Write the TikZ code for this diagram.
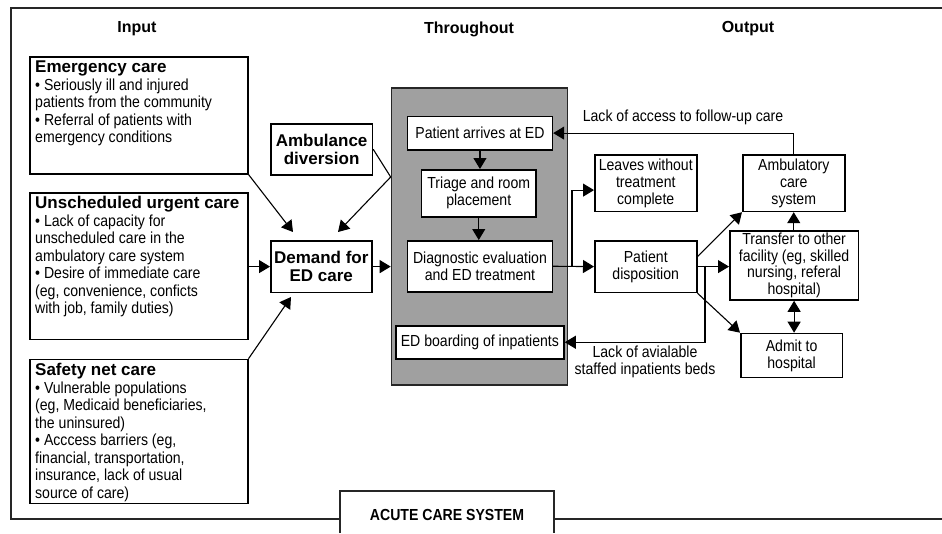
\documentclass[tikz,border=0pt]{standalone}
\usepackage{fontspec}
\setmainfont{Liberation Sans}
\newfontfamily\nfont{Liberation Sans}[FakeStretch=0.88]
\usetikzlibrary{arrows.meta,calc}
\definecolor{grayfill}{RGB}{160,160,160}
\begin{document}
\begin{tikzpicture}[x=1pt,y=-1pt,
  bx/.style={draw=black, line width=1.5pt, fill=white, inner sep=0pt, anchor=north west},
  body/.style={font=\nfont\fontsize{16}{17}\selectfont, align=center},
  bbody/.style={font=\rmfamily\bfseries\fontsize{17}{17.5}\selectfont, align=center},
  ltext/.style={anchor=north west, inner sep=0pt, align=left, font=\nfont\fontsize{16}{17.5}\selectfont},
  head/.style={font=\rmfamily\bfseries\fontsize{16}{18}\selectfont, inner sep=0pt},
  frame/.style={draw=black!85, line width=1.5pt},
  arr/.style={draw=black, line width=1.1pt, -{Triangle[length=11pt,width=13pt]}},
  arrtwo/.style={draw=black, line width=1.1pt, {Triangle[length=11pt,width=13pt]}-{Triangle[length=11pt,width=13pt]}},
  ln/.style={draw=black, line width=1.1pt}]
\useasboundingbox (0,0) rectangle (942,533);

% outer frame
\draw[frame] (942,8) -- (11,8) -- (11,519) -- (340,519);
\draw[frame] (554,519) -- (942,519);
\draw[frame] (340,533) -- (340,491) -- (554,491) -- (554,533);
\node[font=\nfont\bfseries\fontsize{16}{18}\selectfont, inner sep=0pt] (acs) at (447,515) {ACUTE CARE SYSTEM};

% headings
\node[head] (hin) at (137,29) {Input};
\node[head] (hth) at (469,29) {Throughout};
\node[head] (hout) at (748,29) {Output};

% input boxes
\node[bx, minimum width=218pt, minimum height=117pt] (em) at (29,56) {};
\node[ltext] (emt) at (35,61) {{\rmfamily\bfseries\fontsize{17}{17.5}\selectfont Emergency care}\\
• Seriously ill and injured\\ patients from the community\\ • Referral of patients with\\ emergency conditions};

\node[bx, minimum width=218pt, minimum height=146.7pt] (un) at (29,192) {};
\node[ltext] (unt) at (35,196) {{\rmfamily\bfseries\fontsize{17}{17.5}\selectfont Unscheduled urgent care}\\
• Lack of capacity for\\ unscheduled care in the\\ ambulatory care system\\ • Desire of immediate care\\ (eg, convenience, conficts\\ with job, family duties)};

\node[bx, minimum width=218pt, minimum height=144pt] (sn) at (29,358.7) {};
\node[ltext] (snt) at (35,363) {{\rmfamily\bfseries\fontsize{17}{17.5}\selectfont Safety net care}\\
• Vulnerable populations\\ (eg, Medicaid beneficiaries,\\ the uninsured)\\ • Acccess barriers (eg,\\ financial, transportation,\\ insurance, lack of usual\\ source of care)};

\node[bx, bbody, minimum width=101.7pt, minimum height=51pt] (ambdiv) at (270,123) {Ambulance\\diversion};
\node[bx, bbody, minimum width=101pt, minimum height=51.7pt] (dem) at (270,240) {Demand for\\ED care};

% throughput
\node[draw=black!85, line width=1.6pt, fill=grayfill, inner sep=0pt, anchor=north west, minimum width=176pt, minimum height=296.7pt] (ed) at (390.7,87.3) {};
\node[bx, body, minimum width=145pt, minimum height=33.3pt] (pa) at (406.7,115.7) {Patient arrives at ED};
\node[bx, body, minimum width=114.6pt, minimum height=47pt] (tri) at (420.7,169) {Triage and room\\placement};
\node[bx, body, minimum width=145pt, minimum height=51pt] (diag) at (406.7,240) {Diagnostic evaluation\\and ED treatment};
\node[bx, body, minimum width=168.3pt, minimum height=33pt] (board) at (395,325) {ED boarding of inpatients};

% output
\node[bx, body, minimum width=102pt, minimum height=56.7pt] (leave) at (594,154) {Leaves without\\treatment\\complete};
\node[bx, body, minimum width=102pt, minimum height=51.7pt] (pd) at (594,240) {Patient\\disposition};
\node[bx, body, minimum width=102pt, minimum height=56.7pt] (amb) at (742,154) {Ambulatory\\care\\system};
\node[bx, body, font=\nfont\fontsize{16}{16.5}\selectfont, minimum width=128.7pt, minimum height=69.3pt] (tr) at (729,230) {Transfer to other\\facility (eg, skilled\\nursing, referal\\hospital)};
\node[bx, body, minimum width=101.7pt, minimum height=44pt] (adm) at (740,332.7) {Admit to\\hospital};

% labels
\node[body, inner sep=0pt] (lab1) at (683,117) {Lack of access to follow-up care};
\node[body, inner sep=0pt] (lab2) at (645,362) {Lack of avialable\\staffed inpatients beds};

% coordinates
\coordinate (t1) at (293,232);
\coordinate (t2) at (338,232);
\coordinate (t3) at (291,297);
\coordinate (bounce) at (390.7,177);
\coordinate (br1) at (572,265.5);
\coordinate (br2) at (705,265.5);

% input connectors
\draw[arr] (em.south east) -- (t1);
\draw[arr] (un.east |- dem.west) -- (dem.west);
\draw[arr] (sn.north east) -- (t3);
\draw[ln] (ambdiv.east) -- (bounce);
\draw[arr] (bounce) -- (t2);
\draw[arr] (dem.east) -- (dem.east -| ed.west);

% throughput connectors
\draw[arr] (pa.south) -- (pa.south |- tri.north);
\draw[arr] (tri.north |- tri.south) -- (tri.north |- diag.north);
\draw[arr] (diag.east) -- (pd.west);
\draw[arr] (br1) |- ($(leave.west)+(0,7)$);

% output connectors
\draw[arr] ($(pd.east)+(0,-10)$) -- (amb.south west);
\draw[arr] (pd.east) -- (tr.west |- pd.east);
\draw[arr] (pd.south east) -- (adm.north west);
\draw[arr] (br2) |- (board.east);
\draw[arr] (amb.south |- tr.north) -- (amb.south);
\draw[arrtwo] (tr.south) -- (tr.south |- adm.north);
\draw[arr] (amb.north) |- (pa.east);
\end{tikzpicture}
\end{document}
